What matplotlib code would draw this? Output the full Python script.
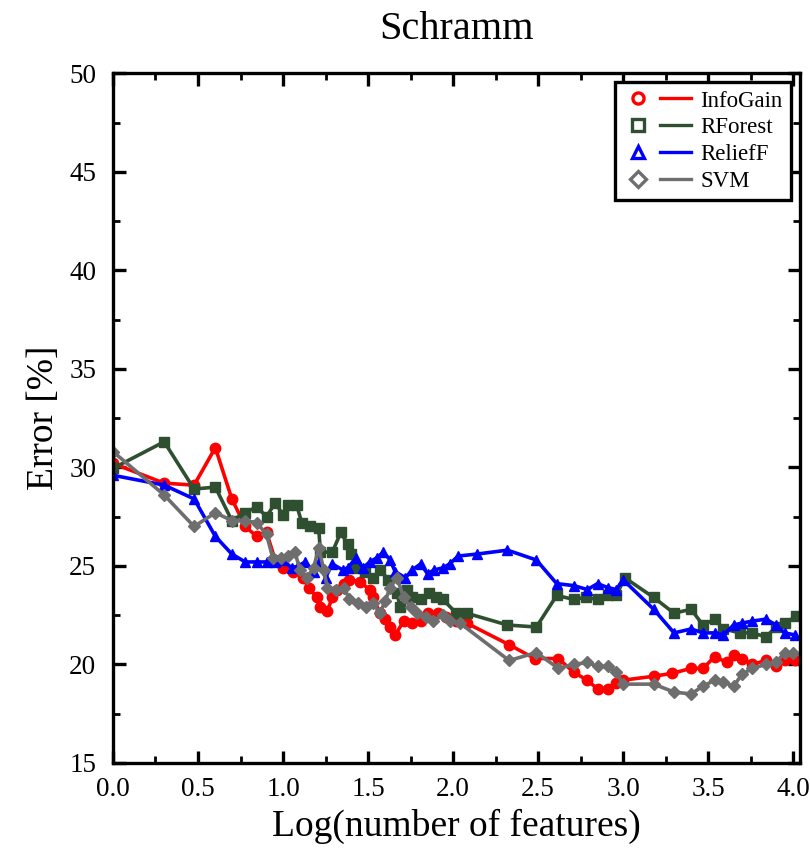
import matplotlib
matplotlib.use("Agg")
import matplotlib.pyplot as plt
from matplotlib.lines import Line2D
from matplotlib.legend_handler import HandlerTuple
from matplotlib.ticker import MultipleLocator

# -------------------------------
# DATA
# -------------------------------
infogain_x = [0, 0.301, 0.477, 0.602, 0.699, 0.778, 0.845, 0.903, 0.954, 1.0, 1.06, 1.12, 1.15,
              1.20, 1.22, 1.26, 1.29, 1.32, 1.36, 1.39, 1.45, 1.51, 1.53, 1.57, 1.60, 1.63, 1.66,
              1.71, 1.76, 1.81, 1.85, 1.91, 1.96, 2.02, 2.08, 2.33, 2.48, 2.62, 2.71, 2.79, 2.85,
              2.91, 2.96, 3.0, 3.18, 3.29, 3.40, 3.47, 3.54, 3.61, 3.65, 3.70, 3.76, 3.84, 3.90,
              3.95, 4.01]
infogain_y = [30.2, 29.2, 29.1, 31.0, 28.4, 27.0, 26.5, 26.7, 25.3, 24.9, 24.7, 24.4, 23.9,
              23.4, 22.9, 22.7, 23.4, 23.8, 24.1, 24.3, 24.2, 23.8, 23.4, 22.6, 22.3, 21.9, 21.5,
              22.2, 22.1, 22.2, 22.6, 22.6, 22.4, 22.2, 22.1, 21.0, 20.3, 20.3, 19.6, 19.2, 18.75,
              18.75, 19.05, 19.2, 19.4, 19.55, 19.8, 19.8, 20.4, 20.1, 20.5, 20.3, 20.0, 20.2, 19.9,
              20.2, 20.2]

rforest_x = [0, 0.301, 0.477, 0.602, 0.699, 0.778, 0.845, 0.903, 0.954, 1.0, 1.03, 1.08, 1.11,
             1.16, 1.21, 1.22, 1.29, 1.34, 1.38, 1.40, 1.43, 1.48, 1.53, 1.57, 1.62, 1.67, 1.69,
             1.73, 1.76, 1.81, 1.86, 1.90, 1.94, 2.02, 2.08, 2.32, 2.49, 2.61, 2.71, 2.78, 2.85,
             2.91, 2.96, 3.01, 3.18, 3.30, 3.40, 3.47, 3.54, 3.59, 3.69, 3.76, 3.84, 3.90, 3.95,
             4.02]
rforest_y = [29.95, 31.3, 28.9, 29.0, 27.3, 27.7, 28.0, 27.5, 28.2, 27.6, 28.1, 28.1, 27.2,
             27.0, 26.9, 25.7, 25.7, 26.7, 26.1, 25.6, 24.9, 24.7, 24.4, 24.8, 24.3, 23.6, 22.9,
             23.8, 23.4, 23.3, 23.6, 23.4, 23.3, 22.6, 22.6, 22.0, 21.9, 23.5, 23.3, 23.4, 23.3,
             23.5, 23.5, 24.4, 23.4, 22.6, 22.8, 22.0, 22.3, 21.8, 21.6, 21.6, 21.4, 21.9, 22.1,
             22.45]

relieff_x = [0, 0.301, 0.477, 0.602, 0.699, 0.778, 0.845, 0.903, 0.954, 1.0, 1.05, 1.09, 1.13,
             1.18, 1.21, 1.25, 1.29, 1.35, 1.38, 1.43, 1.47, 1.51, 1.55, 1.59, 1.63, 1.66, 1.72,
             1.76, 1.81, 1.85, 1.89, 1.94, 1.98, 2.03, 2.14, 2.32, 2.49, 2.61, 2.71, 2.79, 2.85,
             2.91, 2.96, 3.0, 3.18, 3.30, 3.40, 3.47, 3.54, 3.59, 3.65, 3.70, 3.76, 3.84, 3.90,
             3.95, 4.01]
relieff_y = [29.6, 29.1, 28.4, 26.5, 25.6, 25.2, 25.2, 25.2, 25.2, 25.3, 24.9, 25.0, 25.2,
             24.7, 25.2, 24.4, 25.1, 24.8, 24.9, 25.4, 24.9, 25.2, 25.4, 25.7, 25.3, 24.7, 24.4,
             24.8, 25.1, 24.6, 24.8, 24.9, 25.1, 25.5, 25.6, 25.8, 25.3, 24.1, 24.0, 23.8, 24.1,
             23.9, 23.8, 24.3, 22.8, 21.6, 21.8, 21.6, 21.6, 21.5, 22.0, 22.1, 22.2, 22.3, 22.0,
             21.6, 21.5]

svm_x = [0, 0.301, 0.477, 0.602, 0.699, 0.778, 0.845, 0.903, 0.94, 0.99, 1.03, 1.07, 1.10,
         1.14, 1.18, 1.21, 1.24, 1.26, 1.31, 1.36, 1.39, 1.44, 1.49, 1.53, 1.57, 1.60, 1.63,
         1.67, 1.71, 1.75, 1.79, 1.84, 1.88, 1.94, 1.98, 2.04, 2.33, 2.49, 2.62, 2.71, 2.79,
         2.85, 2.91, 2.96, 3.0, 3.18, 3.30, 3.40, 3.47, 3.54, 3.59, 3.65, 3.70, 3.76, 3.84,
         3.90, 3.95, 4.0]
svm_y = [30.8, 28.6, 27.0, 27.7, 27.3, 27.3, 27.2, 26.6, 25.4, 25.4, 25.5, 25.7, 24.8,
         24.4, 24.9, 25.9, 24.8, 23.9, 23.8, 23.9, 23.3, 23.1, 22.9, 23.1, 22.6, 23.2, 23.9,
         24.4, 23.4, 22.9, 22.6, 22.4, 22.2, 22.5, 22.2, 22.1, 20.2, 20.6, 19.8, 20.0, 20.1,
         19.9, 19.9, 19.6, 19.0, 19.0, 18.6, 18.5, 18.9, 19.2, 19.1, 18.9, 19.5, 19.8, 20.0,
         20.1, 20.6, 20.6]

series = [
    ("InfoGain", infogain_x, infogain_y, "#ff0000", "o"),
    ("RForest", rforest_x, rforest_y, "#2f5030", "s"),
    ("ReliefF", relieff_x, relieff_y, "#0000ff", "^"),
    ("SVM", svm_x, svm_y, "#6e6e6e", "D"),
]

# -------------------------------
# PLOT
# -------------------------------
plt.rcParams["font.family"] = ["Liberation Serif", "DejaVu Serif"]

fig = plt.figure(figsize=(8.1, 8.52), dpi=100)
ax = fig.add_axes([0.1395, 0.1045, 0.848, 0.8095])

handles = []
for name, xs, ys, color, mk in series:
    ms = 6.5 if mk == "D" else 7.5
    ax.plot(xs, ys, color=color, linewidth=2.6, marker=mk, markersize=ms,
            markeredgecolor=color, markerfacecolor=color)
    h_marker = Line2D([], [], linestyle="none", marker=mk, markersize=8,
                      markerfacecolor="white", markeredgecolor=color, markeredgewidth=2.4)
    h_line = Line2D([], [], color=color, linewidth=2.4)
    handles.append((h_marker, h_line))

ax.set_xlim(0, 4.04)
ax.set_ylim(15, 50)
ax.xaxis.set_major_locator(MultipleLocator(0.5))
ax.xaxis.set_minor_locator(MultipleLocator(0.25))
ax.yaxis.set_major_locator(MultipleLocator(5))
ax.yaxis.set_minor_locator(MultipleLocator(2.5))
ax.set_xticks([0, 0.5, 1.0, 1.5, 2.0, 2.5, 3.0, 3.5, 4.0])
ax.set_xticklabels(["0.0", "0.5", "1.0", "1.5", "2.0", "2.5", "3.0", "3.5", "4.0"])

ax.tick_params(which="both", direction="in", top=True, right=True, labelsize=19.5)
ax.tick_params(axis="x", pad=10)
ax.tick_params(axis="y", pad=12)
ax.tick_params(which="major", length=9, width=2.4)
ax.tick_params(which="minor", length=5, width=2.0)
for sp in ax.spines.values():
    sp.set_linewidth(2.4)

ax.set_xlabel("Log(number of features)", fontsize=27, labelpad=5)
ax.set_ylabel("Error [%]", fontsize=27, labelpad=6)
ax.set_title("Schramm", fontsize=29, pad=25)

leg = ax.legend(handles, [s[0] for s in series],
                handler_map={tuple: HandlerTuple(ndivide=None, pad=0.3)},
                loc="upper right", fontsize=16.5, handlelength=3.0,
                fancybox=False, edgecolor="black", framealpha=1,
                borderaxespad=0.4, borderpad=0.35, labelspacing=0.25, handletextpad=0.4)
leg.get_frame().set_linewidth(2.4)

fig.savefig("out.png", dpi=100)
